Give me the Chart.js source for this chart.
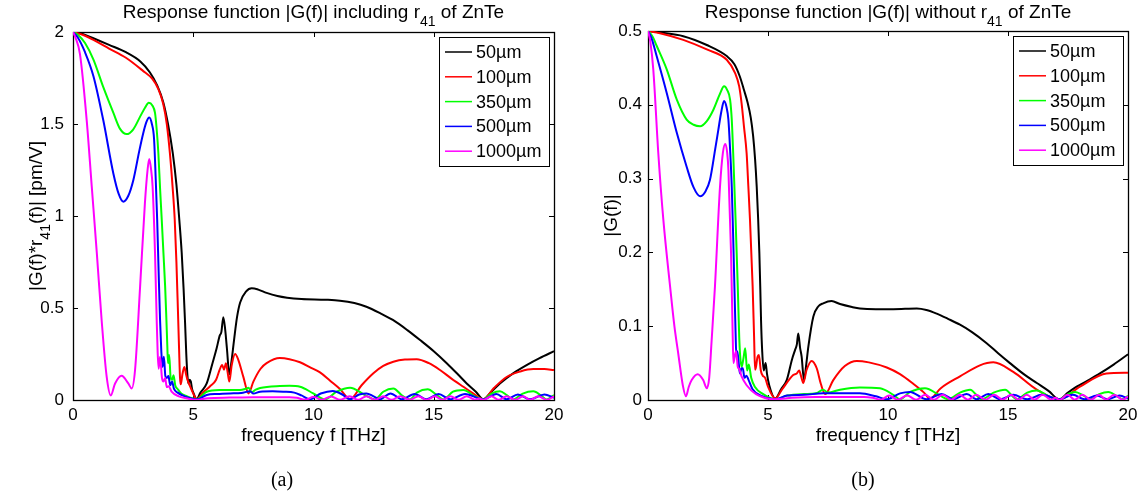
<!DOCTYPE html>
<html>
<head>
<meta charset="utf-8">
<script src="https://cdn.jsdelivr.net/npm/chart.js@4.4.1/dist/chart.umd.min.js"></script>
<style>
  body { margin: 0; background: #fff; }
  #wrap { position: relative; width: 1144px; height: 501px; overflow: hidden; }
  .panel { position: absolute; top: 0; width: 572px; height: 501px; }
  .cap { position: absolute; top: 468px; width: 60px; margin-left: -30px; text-align: center;
         font: 20px "Liberation Serif", serif; color: #000; }
</style>
</head>
<body>
<div id="wrap">
  <div class="panel" style="left:0"><canvas id="chartA" width="572" height="501"></canvas></div>
  <div class="panel" style="left:572px"><canvas id="chartB" width="572" height="501"></canvas></div>
  <div class="cap" style="left:282px">(a)</div>
  <div class="cap" style="left:863px">(b)</div>
</div>
<script>
// crystal thicknesses and line colours
const thickness = ['50\u00b5m', '100\u00b5m', '350\u00b5m', '500\u00b5m', '1000\u00b5m'];
const colors = ['#000000', '#ff0000', '#00ff00', '#0000ff', '#ff00ff'];

// tick values
const freqTicks = [0, 5, 10, 15, 20];
const inclTicks = [0, 0.5, 1, 1.5, 2];
const woTicks = [0, 0.1, 0.2, 0.3, 0.4, 0.5];

// |G(f)*r41(f)| [pm/V], pairs of [f THz, value]
const incl50 = [[0,2.0],[0.4,1.99],[0.85,1.966],[1.5,1.93],[2.2,1.89],[2.8,1.84],[3.2,1.78],[3.5,1.71],[3.75,1.62],[3.95,1.5],[4.15,1.34],[4.3,1.17],[4.42,0.98],[4.52,0.8],[4.6,0.6],[4.66,0.42],[4.71,0.25],[4.76,0.13],[4.8,0.09],[4.85,0.11],[4.9,0.1],[4.95,0.06],[5.02,0.035],[5.13,0.005],[5.3,0.04],[5.56,0.09],[5.8,0.2],[5.97,0.28],[6.1,0.35],[6.17,0.37],[6.25,0.45],[6.33,0.38],[6.4,0.28],[6.5,0.14],[6.58,0.2],[6.7,0.33],[6.82,0.45],[6.95,0.53],[7.2,0.59],[7.43,0.607],[7.7,0.6],[8.05,0.582],[8.5,0.565],[8.9,0.556],[9.5,0.549],[10.5,0.545],[11.1,0.54],[11.7,0.527],[12.2,0.507],[12.8,0.47],[13.3,0.435],[13.9,0.38],[14.43,0.326],[15.0,0.265],[15.54,0.2],[16.0,0.14],[16.37,0.09],[16.75,0.045],[17.06,0.004],[17.4,0.045],[17.75,0.09],[18.3,0.145],[18.86,0.19],[19.4,0.228],[20,0.265]];
const incl100 = [[0,2.0],[0.4,1.985],[0.85,1.957],[1.5,1.91],[2.2,1.86],[2.9,1.79],[3.3,1.745],[3.55,1.69],[3.75,1.61],[3.9,1.5],[4.03,1.34],[4.14,1.16],[4.23,0.98],[4.3,0.75],[4.36,0.5],[4.41,0.28],[4.45,0.12],[4.48,0.085],[4.55,0.14],[4.63,0.18],[4.7,0.14],[4.76,0.11],[4.85,0.08],[4.95,0.05],[5.05,0.02],[5.14,0.004],[5.4,0.04],[5.7,0.075],[5.95,0.11],[6.1,0.165],[6.2,0.19],[6.28,0.165],[6.36,0.2],[6.43,0.15],[6.5,0.1],[6.6,0.19],[6.74,0.25],[6.87,0.22],[7.08,0.127],[7.3,0.036],[7.5,0.1],[7.8,0.17],[8.05,0.2],[8.6,0.228],[9.0,0.222],[9.44,0.205],[9.9,0.175],[10.27,0.15],[10.69,0.105],[11.1,0.06],[11.52,0.005],[12.0,0.08],[12.49,0.145],[12.9,0.185],[13.32,0.208],[13.8,0.22],[14.29,0.222],[14.8,0.2],[15.26,0.163],[15.75,0.115],[16.23,0.072],[16.65,0.035],[17.06,0.004],[17.5,0.065],[18.03,0.125],[18.6,0.155],[19.14,0.168],[19.6,0.168],[20,0.163]];
const incl350 = [[0,2.0],[0.2,1.985],[0.5,1.94],[0.85,1.85],[1.26,1.7],[1.68,1.56],[1.95,1.475],[2.23,1.445],[2.5,1.47],[2.79,1.54],[3.0,1.59],[3.15,1.615],[3.3,1.6],[3.41,1.56],[3.48,1.47],[3.55,1.34],[3.62,1.15],[3.69,0.98],[3.76,0.8],[3.83,0.62],[3.88,0.45],[3.92,0.3],[3.95,0.2],[4.0,0.245],[4.06,0.12],[4.12,0.11],[4.18,0.135],[4.25,0.08],[4.35,0.06],[4.5,0.035],[4.75,0.02],[5.0,0.008],[5.14,0.003],[5.56,0.045],[6.11,0.054],[6.94,0.055],[7.2,0.062],[7.3,0.066],[7.43,0.042],[7.6,0.056],[7.78,0.065],[8.6,0.076],[9.0,0.077],[9.44,0.072],[9.99,0.036],[10.48,0.003],[10.96,0.045],[11.52,0.067],[12.14,0.027],[12.56,0.003],[12.9,0.045],[13.32,0.063],[13.7,0.022],[14.0,0.003],[14.3,0.04],[14.75,0.058],[15.1,0.03],[15.4,0.003],[15.8,0.045],[16.23,0.054],[16.7,0.02],[17.06,0.003],[17.4,0.035],[17.75,0.048],[18.05,0.025],[18.3,0.003],[18.7,0.035],[19.14,0.047],[19.5,0.02],[19.7,0.003],[20,0.027]];
const incl500 = [[0,2.0],[0.2,1.97],[0.5,1.89],[0.85,1.76],[1.26,1.52],[1.68,1.23],[1.9,1.12],[2.09,1.078],[2.3,1.11],[2.51,1.196],[2.75,1.35],[2.92,1.45],[3.05,1.51],[3.17,1.535],[3.28,1.5],[3.37,1.42],[3.44,1.2],[3.5,0.98],[3.56,0.7],[3.62,0.435],[3.67,0.27],[3.72,0.18],[3.78,0.235],[3.84,0.13],[3.9,0.12],[3.97,0.13],[4.04,0.08],[4.12,0.1],[4.2,0.06],[4.35,0.04],[4.6,0.022],[4.9,0.01],[5.14,0.003],[5.56,0.027],[6.0,0.033],[6.53,0.036],[7.0,0.038],[7.36,0.048],[7.5,0.035],[7.78,0.045],[8.3,0.047],[8.74,0.045],[9.2,0.04],[9.5,0.025],[9.85,0.004],[10.3,0.035],[10.8,0.049],[11.2,0.03],[11.52,0.004],[11.9,0.03],[12.2,0.036],[12.5,0.02],[12.77,0.004],[13.2,0.036],[13.67,0.004],[14.2,0.033],[14.7,0.004],[15.2,0.032],[15.68,0.004],[16.3,0.033],[17.06,0.003],[17.6,0.033],[18.03,0.004],[18.5,0.03],[19.0,0.004],[19.6,0.03],[20,0.012]];
const incl1000 = [[0,2.0],[0.1,1.97],[0.29,1.88],[0.57,1.52],[0.78,1.16],[0.99,0.8],[1.19,0.435],[1.4,0.127],[1.57,0.025],[1.75,0.09],[2.02,0.132],[2.3,0.09],[2.44,0.063],[2.58,0.163],[2.79,0.616],[2.99,1.07],[3.1,1.25],[3.17,1.31],[3.24,1.26],[3.31,1.16],[3.41,0.8],[3.48,0.435],[3.52,0.26],[3.56,0.17],[3.62,0.235],[3.7,0.12],[3.76,0.1],[3.83,0.12],[3.9,0.07],[3.98,0.075],[4.1,0.045],[4.4,0.02],[4.8,0.007],[5.14,0.0],[5.6,0.01],[6.5,0.013],[7.5,0.015],[8.5,0.015],[9.0,0.015],[9.3,0.012],[9.65,0.001],[10.0,0.018],[10.34,0.001],[10.73,0.019],[11.1,0.001],[11.5,0.02],[11.86,0.001],[12.2,0.021],[12.56,0.001],[12.9,0.021],[13.25,0.001],[13.6,0.021],[14.0,0.001],[14.36,0.021],[14.7,0.001],[15.05,0.02],[15.36,0.001],[15.7,0.02],[16.03,0.001],[16.37,0.02],[16.72,0.002],[16.88,0.008],[17.06,0.0],[17.4,0.02],[17.7,0.001],[18.03,0.02],[18.38,0.001],[18.72,0.02],[19.0,0.001],[19.35,0.02],[19.7,0.001],[20,0.02]];

// |G(f)| without r41
const wo50 = [[0,0.5],[0.5,0.498],[1.47,0.493],[2.45,0.481],[3.28,0.466],[3.6,0.455],[3.83,0.438],[4.0,0.42],[4.15,0.403],[4.28,0.383],[4.38,0.358],[4.46,0.327],[4.53,0.289],[4.59,0.245],[4.64,0.199],[4.68,0.15],[4.71,0.108],[4.76,0.065],[4.82,0.04],[4.9,0.05],[4.96,0.035],[5.05,0.02],[5.3,0.002],[5.55,0.015],[5.78,0.027],[6.0,0.055],[6.13,0.068],[6.2,0.075],[6.26,0.09],[6.34,0.07],[6.4,0.059],[6.5,0.027],[6.6,0.05],[6.68,0.072],[6.89,0.113],[7.1,0.127],[7.3,0.131],[7.65,0.134],[8.0,0.13],[8.5,0.126],[8.83,0.124],[9.5,0.123],[10.22,0.123],[11.2,0.124],[11.6,0.122],[12.03,0.117],[12.5,0.11],[13.0,0.102],[13.5,0.092],[14.11,0.077],[14.6,0.063],[15.08,0.05],[15.7,0.034],[16.2,0.023],[16.7,0.012],[17.14,0.001],[17.5,0.01],[17.86,0.018],[18.3,0.026],[18.83,0.036],[19.4,0.048],[20,0.062]];
const wo100 = [[0,0.5],[0.5,0.497],[1.47,0.488],[2.45,0.475],[3.28,0.461],[3.63,0.443],[3.8,0.425],[3.9,0.402],[4.0,0.37],[4.11,0.334],[4.18,0.29],[4.25,0.244],[4.36,0.154],[4.42,0.086],[4.46,0.041],[4.5,0.045],[4.56,0.058],[4.62,0.061],[4.7,0.04],[4.78,0.033],[4.88,0.03],[5.0,0.018],[5.3,0.002],[5.6,0.015],[6.05,0.034],[6.2,0.036],[6.3,0.04],[6.38,0.032],[6.47,0.023],[6.61,0.041],[6.82,0.053],[7.03,0.043],[7.2,0.022],[7.38,0.008],[7.72,0.027],[8.2,0.046],[8.7,0.053],[9.2,0.051],[9.95,0.044],[10.5,0.035],[11.05,0.022],[11.5,0.01],[11.75,0.002],[12.2,0.016],[13.0,0.032],[13.83,0.047],[14.39,0.051],[15.22,0.038],[16.2,0.014],[17.14,0.001],[18.0,0.018],[19.1,0.036],[20,0.037]];
const wo350 = [[0,0.5],[0.2,0.492],[0.36,0.48],[0.78,0.448],[1.2,0.407],[1.61,0.38],[1.9,0.373],[2.17,0.371],[2.45,0.378],[2.72,0.393],[3.0,0.415],[3.17,0.425],[3.3,0.42],[3.42,0.407],[3.49,0.38],[3.55,0.334],[3.65,0.244],[3.74,0.154],[3.8,0.086],[3.84,0.06],[3.9,0.045],[3.97,0.055],[4.05,0.07],[4.13,0.04],[4.2,0.048],[4.3,0.03],[4.45,0.018],[4.8,0.008],[5.3,0.001],[5.8,0.006],[6.5,0.008],[7.0,0.009],[7.3,0.014],[7.5,0.01],[8.0,0.014],[8.83,0.017],[9.67,0.016],[10.22,0.007],[10.5,0.001],[10.92,0.011],[11.54,0.016],[12.17,0.006],[12.51,0.001],[13.0,0.01],[13.42,0.014],[13.9,0.001],[14.4,0.01],[14.88,0.014],[15.36,0.001],[15.8,0.01],[16.2,0.013],[16.7,0.005],[17.14,0.001],[17.5,0.008],[17.8,0.011],[18.15,0.006],[18.42,0.001],[18.8,0.008],[19.18,0.011],[19.55,0.005],[19.8,0.001],[20,0.006]];
const wo500 = [[0,0.5],[0.15,0.49],[0.36,0.466],[0.78,0.416],[1.2,0.362],[1.61,0.316],[1.9,0.288],[2.17,0.276],[2.4,0.283],[2.58,0.298],[2.8,0.34],[2.93,0.366],[3.05,0.39],[3.17,0.405],[3.27,0.397],[3.35,0.38],[3.42,0.34],[3.49,0.289],[3.55,0.22],[3.6,0.154],[3.65,0.09],[3.68,0.06],[3.72,0.066],[3.78,0.05],[3.83,0.036],[3.9,0.043],[3.95,0.043],[4.02,0.03],[4.1,0.033],[4.18,0.028],[4.35,0.015],[4.7,0.006],[5.3,0.001],[5.8,0.006],[6.5,0.007],[7.3,0.009],[8.0,0.009],[8.83,0.009],[9.5,0.005],[9.95,0.001],[10.5,0.009],[10.92,0.011],[11.61,0.001],[12.24,0.008],[12.72,0.001],[13.28,0.008],[13.7,0.001],[14.18,0.008],[14.67,0.001],[15.22,0.007],[15.8,0.001],[16.4,0.007],[17.14,0.001],[17.7,0.007],[18.2,0.001],[18.7,0.006],[19.15,0.001],[19.65,0.006],[20,0.002]];
const wo1000 = [[0,0.5],[0.1,0.485],[0.22,0.448],[0.43,0.334],[0.64,0.244],[0.92,0.154],[1.1,0.1],[1.26,0.063],[1.45,0.02],[1.58,0.005],[1.7,0.018],[1.82,0.027],[2.07,0.035],[2.3,0.027],[2.45,0.016],[2.55,0.03],[2.65,0.08],[2.79,0.154],[3.0,0.289],[3.12,0.335],[3.22,0.347],[3.3,0.335],[3.35,0.312],[3.46,0.199],[3.53,0.086],[3.56,0.05],[3.62,0.06],[3.67,0.066],[3.74,0.045],[3.8,0.042],[3.9,0.032],[4.11,0.02],[4.5,0.008],[5.3,0.001],[6.0,0.003],[7.0,0.004],[8.0,0.004],[9.0,0.004],[9.35,0.003],[9.7,0.0005],[10.05,0.006],[10.4,0.0005],[10.8,0.006],[11.17,0.0005],[11.55,0.007],[11.92,0.0005],[12.28,0.007],[12.64,0.0005],[12.98,0.007],[13.33,0.0005],[13.68,0.007],[14.06,0.0005],[14.43,0.007],[14.78,0.0005],[15.12,0.007],[15.44,0.0005],[15.78,0.007],[16.11,0.0005],[16.45,0.007],[16.8,0.0005],[16.97,0.003],[17.14,0.0],[17.48,0.007],[17.78,0.0005],[18.1,0.007],[18.46,0.0005],[18.8,0.007],[19.08,0.0005],[19.43,0.007],[19.78,0.0005],[20,0.005]];

const FONT = '"Liberation Sans", Arial, sans-serif';

// draws a string made of normal and subscript pieces
function richText(ctx, parts, x, y, size, align) {
  const subSize = Math.round(size * 0.72);
  const widths = parts.map(p => {
    ctx.font = `${p.sub ? subSize : size}px ${FONT}`;
    return ctx.measureText(p.t).width;
  });
  const total = widths.reduce((s, w) => s + w, 0);
  let cx = align === 'center' ? x - total / 2 : x;
  parts.forEach((p, i) => {
    ctx.font = `${p.sub ? subSize : size}px ${FONT}`;
    ctx.fillText(p.t, cx, p.sub ? y + size * 0.4 : y);
    cx += widths[i];
  });
}

// box, inward ticks, legend and labels in the MATLAB style
const matlabFrame = {
  id: 'matlabFrame',
  beforeDatasetsDraw(chart) {
    const { ctx, chartArea: a, scales: { x, y } } = chart;
    ctx.save();
    ctx.strokeStyle = '#000';
    ctx.lineWidth = 1;
    ctx.beginPath();
    x.ticks.forEach(t => {
      const px = Math.round(x.getPixelForValue(t.value)) + 0.5;
      ctx.moveTo(px, a.bottom); ctx.lineTo(px, a.bottom - 5);
      ctx.moveTo(px, a.top); ctx.lineTo(px, a.top + 5);
    });
    y.ticks.forEach(t => {
      const py = Math.round(y.getPixelForValue(t.value)) + 0.5;
      ctx.moveTo(a.left, py); ctx.lineTo(a.left + 5, py);
      ctx.moveTo(a.right, py); ctx.lineTo(a.right - 5, py);
    });
    ctx.stroke();
    ctx.lineWidth = 1.3;
    ctx.strokeRect(Math.round(a.left) + 0.5, Math.round(a.top) + 0.5,
      Math.round(a.right - a.left), Math.round(a.bottom - a.top));
    ctx.restore();
  },
  afterDatasetsDraw(chart, args, opts) {
    const { ctx, chartArea: a } = chart;
    const lg = opts.legend;
    ctx.save();
    const left = a.right - lg.width - 5, top = a.top + 5;
    const rowH = 24.8;
    const h = rowH * thickness.length + 5;
    ctx.fillStyle = '#fff';
    ctx.fillRect(left, top, lg.width, h);
    ctx.strokeStyle = '#000';
    ctx.lineWidth = 1;
    ctx.strokeRect(Math.round(left) + 0.5, Math.round(top) + 0.5, Math.round(lg.width), Math.round(h));
    ctx.font = `18px ${FONT}`;
    ctx.textBaseline = 'middle';
    thickness.forEach((label, i) => {
      const cy = top + 15 + i * rowH;
      ctx.strokeStyle = colors[i];
      ctx.lineWidth = 1.5;
      ctx.beginPath();
      ctx.moveTo(left + 6, cy); ctx.lineTo(left + 33, cy);
      ctx.stroke();
      ctx.fillStyle = '#000';
      ctx.fillText(label, left + 37, cy + 1);
    });
    ctx.restore();
  },
  afterDraw(chart, args, opts) {
    const { ctx, chartArea: a } = chart;
    const cx = (a.left + a.right) / 2;
    ctx.save();
    ctx.fillStyle = '#000';
    ctx.textBaseline = 'alphabetic';
    richText(ctx, opts.title, cx, 18, 19, 'center');
    ctx.font = `19px ${FONT}`;
    ctx.textAlign = 'center';
    ctx.fillText('frequency f [THz]', cx, 441);
    ctx.textAlign = 'left';
    ctx.translate(opts.ylabelX, (a.top + a.bottom) / 2);
    ctx.rotate(-Math.PI / 2);
    richText(ctx, opts.ylabel, 0, 0, 19, 'center');
    ctx.restore();
  }
};

function series(list, i) {
  return {
    label: thickness[i],
    data: list.map(([f, v]) => ({ x: f, y: v })),
    borderColor: colors[i],
    borderWidth: 2,
    pointRadius: 0,
    fill: false,
    cubicInterpolationMode: 'monotone',
    order: thickness.length - i
  };
}

function makeChart(id, lists, yTicks, yMax, pad, yWidth, yPad, decor) {
  return new Chart(document.getElementById(id), {
    type: 'line',
    data: { datasets: lists.map(series) },
    plugins: [matlabFrame],
    options: {
      responsive: false,
      animation: false,
      parsing: false,
      layout: { padding: pad },
      plugins: { legend: { display: false }, tooltip: { enabled: false }, matlabFrame: decor },
      scales: {
        x: {
          type: 'linear', min: 0, max: 20,
          afterBuildTicks: s => { s.ticks = freqTicks.map(v => ({ value: v })); },
          afterFit: s => { s.height = 101; },
          grid: { display: false, drawTicks: false }, border: { display: false },
          ticks: { color: '#000', padding: 5, font: { family: FONT, size: 17 }, callback: v => String(v) }
        },
        y: {
          type: 'linear', min: 0, max: yMax,
          afterBuildTicks: s => { s.ticks = yTicks.map(v => ({ value: v })); },
          afterFit: s => { s.width = yWidth; },
          grid: { display: false, drawTicks: false }, border: { display: false },
          ticks: { color: '#000', padding: yPad, font: { family: FONT, size: 17 }, callback: v => String(v) }
        }
      }
    }
  });
}

makeChart('chartA', [incl50, incl100, incl350, incl500, incl1000], inclTicks, 2,
  { left: 0, top: 32, right: 18, bottom: 0 }, 73, 9, {
    title: [{ t: 'Response function |G(f)| including r' }, { t: '41', sub: true }, { t: ' of ZnTe' }],
    ylabel: [{ t: '|G(f)*r' }, { t: '41', sub: true }, { t: '(f)| [pm/V]' }],
    ylabelX: 42,
    legend: { width: 110 }
  });

makeChart('chartB', [wo50, wo100, wo350, wo500, wo1000], woTicks, 0.5,
  { left: 0, top: 31, right: 16, bottom: 0 }, 76, 6, {
    title: [{ t: 'Response function |G(f)| without r' }, { t: '41', sub: true }, { t: ' of ZnTe' }],
    ylabel: [{ t: '|G(f)|' }],
    ylabelX: 45,
    legend: { width: 110 }
  });
</script>
</body>
</html>
